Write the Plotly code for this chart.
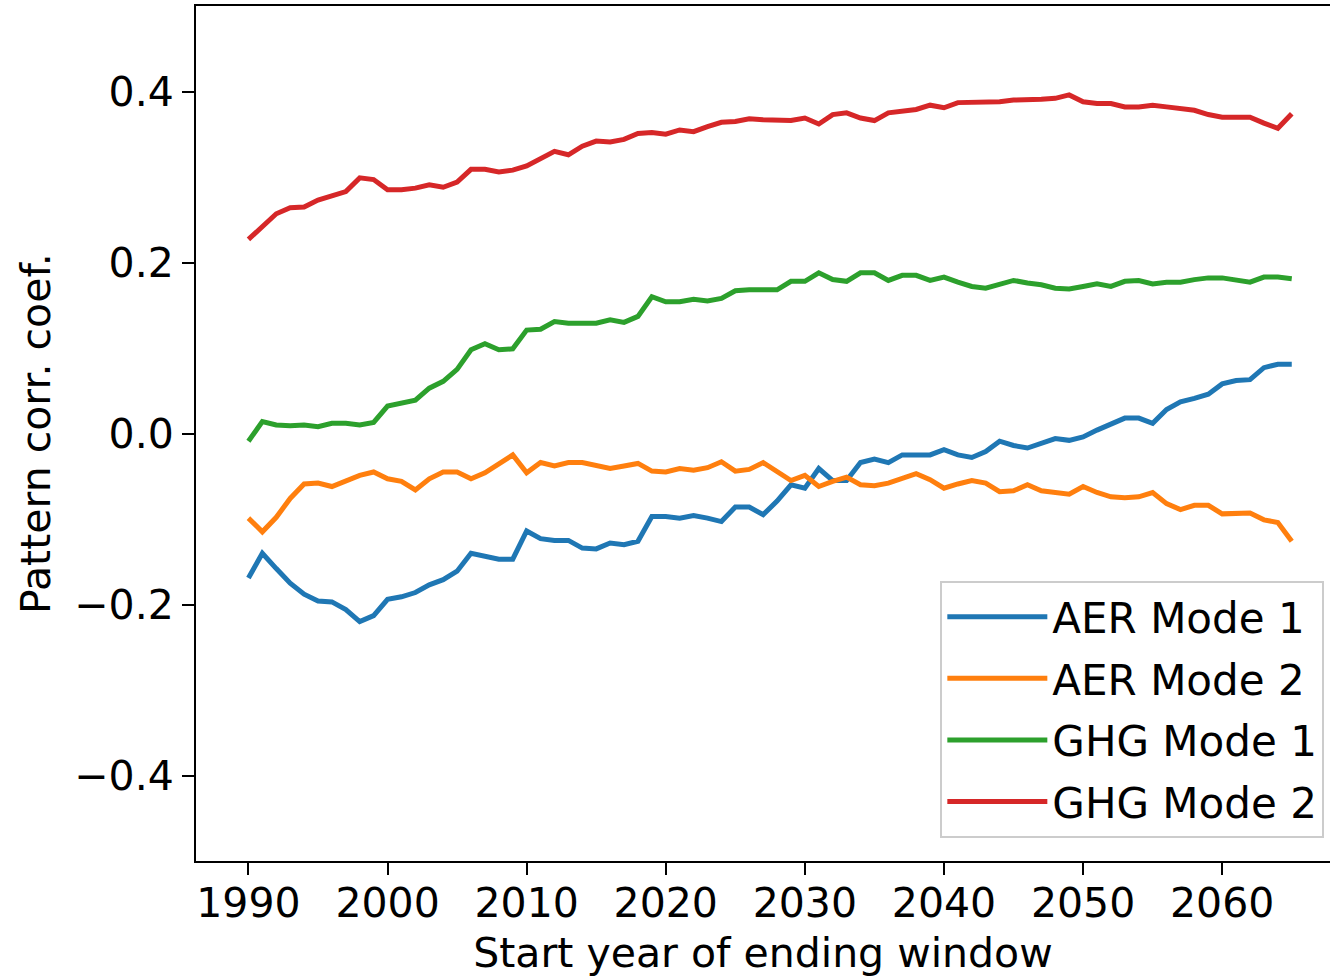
import plotly.graph_objects as go

years = list(range(1990, 2066))

aer_mode1 = [
    -0.169, -0.140, -0.158, -0.175, -0.188, -0.196, -0.197, -0.206, -0.220, -0.213,
    -0.194, -0.191, -0.186, -0.177, -0.171, -0.161, -0.140, -0.143, -0.147, -0.147,
    -0.114, -0.123, -0.125, -0.125, -0.134, -0.135, -0.128, -0.130, -0.126, -0.097,
    -0.097, -0.099, -0.096, -0.099, -0.103, -0.086, -0.086, -0.095, -0.079, -0.060,
    -0.064, -0.041, -0.055, -0.055, -0.034, -0.030, -0.034, -0.025, -0.025, -0.025,
    -0.019, -0.025, -0.028, -0.021, -0.009, -0.014, -0.017, -0.012, -0.006, -0.008,
    -0.004, 0.004, 0.011, 0.018, 0.018, 0.012, 0.028, 0.037, 0.041, 0.046,
    0.058, 0.062, 0.063, 0.077, 0.081, 0.081,
]

aer_mode2 = [
    -0.099, -0.115, -0.098, -0.076, -0.059, -0.058, -0.062, -0.056, -0.049, -0.045,
    -0.053, -0.056, -0.066, -0.053, -0.045, -0.045, -0.053, -0.046, -0.035, -0.025,
    -0.046, -0.034, -0.038, -0.034, -0.034, -0.037, -0.041, -0.038, -0.035, -0.044,
    -0.045, -0.041, -0.043, -0.040, -0.033, -0.044, -0.042, -0.034, -0.044, -0.055,
    -0.049, -0.062, -0.056, -0.051, -0.060, -0.061, -0.058, -0.052, -0.047, -0.054,
    -0.064, -0.059, -0.055, -0.058, -0.068, -0.067, -0.060, -0.067, -0.069, -0.071,
    -0.062, -0.069, -0.074, -0.075, -0.074, -0.069, -0.082, -0.089, -0.084, -0.084,
    -0.094, -0.093, -0.093, -0.101, -0.104, -0.126,
]

ghg_mode1 = [
    -0.009, 0.014, 0.010, 0.009, 0.010, 0.008, 0.012, 0.012, 0.010, 0.013,
    0.032, 0.035, 0.039, 0.053, 0.061, 0.075, 0.098, 0.105, 0.098, 0.099,
    0.121, 0.122, 0.131, 0.129, 0.129, 0.129, 0.133, 0.130, 0.137, 0.160,
    0.154, 0.154, 0.157, 0.155, 0.158, 0.167, 0.168, 0.168, 0.168, 0.178,
    0.178, 0.188, 0.180, 0.178, 0.188, 0.188, 0.179, 0.185, 0.185, 0.179,
    0.183, 0.177, 0.172, 0.170, 0.175, 0.179, 0.176, 0.174, 0.170, 0.169,
    0.172, 0.175, 0.172, 0.178, 0.179, 0.175, 0.177, 0.177, 0.180, 0.182,
    0.182, 0.180, 0.177, 0.183, 0.183, 0.181,
]

ghg_mode2 = [
    0.227, 0.243, 0.257, 0.264, 0.265, 0.273, 0.278, 0.283, 0.299, 0.297,
    0.285, 0.285, 0.287, 0.291, 0.288, 0.294, 0.309, 0.309, 0.306, 0.308,
    0.313, 0.321, 0.330, 0.326, 0.336, 0.342, 0.341, 0.344, 0.351, 0.352,
    0.350, 0.355, 0.353, 0.359, 0.364, 0.365, 0.368, 0.367, 0.367, 0.366,
    0.369, 0.362, 0.373, 0.375, 0.369, 0.366, 0.375, 0.377, 0.379, 0.384,
    0.381, 0.387, 0.387, 0.387, 0.388, 0.390, 0.390, 0.391, 0.392, 0.396,
    0.388, 0.386, 0.386, 0.382, 0.382, 0.384, 0.382, 0.380, 0.378, 0.373,
    0.370, 0.370, 0.370, 0.363, 0.357, 0.374,
]

series_names = ["AER Mode 1", "AER Mode 2", "GHG Mode 1", "GHG Mode 2"]
series_values = [aer_mode1, aer_mode2, ghg_mode1, ghg_mode2]
colors = ["#1f77b4", "#ff7f0e", "#2ca02c", "#d62728"]

x_ticks = [1990, 2000, 2010, 2020, 2030, 2040, 2050, 2060]
y_ticks = [-0.4, -0.2, 0.0, 0.2, 0.4]

FONT = "DejaVu Sans"

fig = go.Figure()
for name, vals, col in zip(series_names, series_values, colors):
    fig.add_trace(go.Scatter(x=years, y=vals, mode="lines", name=name,
                             legendgroup=name,
                             line=dict(color=col, width=5)))

axis_common = dict(
    showgrid=False, zeroline=False, showline=True, linecolor="black", linewidth=2,
    ticks="outside", ticklen=12, tickwidth=2, tickcolor="black",
    tickfont=dict(family=FONT, size=41, color="black"),
    automargin=False,
)

fig.update_layout(
    width=1330, height=977,
    margin=dict(l=196, r=0, t=6, b=116),
    paper_bgcolor="white", plot_bgcolor="white",
    font=dict(family=FONT, color="black"),
    xaxis=dict(range=[1986.23, 2067.75], tickvals=x_ticks, mirror=True,
               ticklabelstandoff=-7,
               title=dict(text="Start year of ending window",
                          font=dict(family=FONT, size=41), standoff=12),
               **axis_common),
    yaxis=dict(range=[-0.5, 0.5], tickvals=y_ticks, tickformat=".1f",
               title=dict(text="Pattern corr. coef.",
                          font=dict(family=FONT, size=41), standoff=11),
               **axis_common),
    legend=dict(x=0.995, y=0.027, xanchor="right", yanchor="bottom",
                bgcolor="rgba(255,255,255,0.8)", bordercolor="#cccccc", borderwidth=2,
                font=dict(family=FONT, size=42, color="black"),
                itemwidth=100, tracegroupgap=4),
    showlegend=True,
)

fig.write_html("out.html", config={"displayModeBar": False},
               post_script="document.body.style.margin='0px';")
